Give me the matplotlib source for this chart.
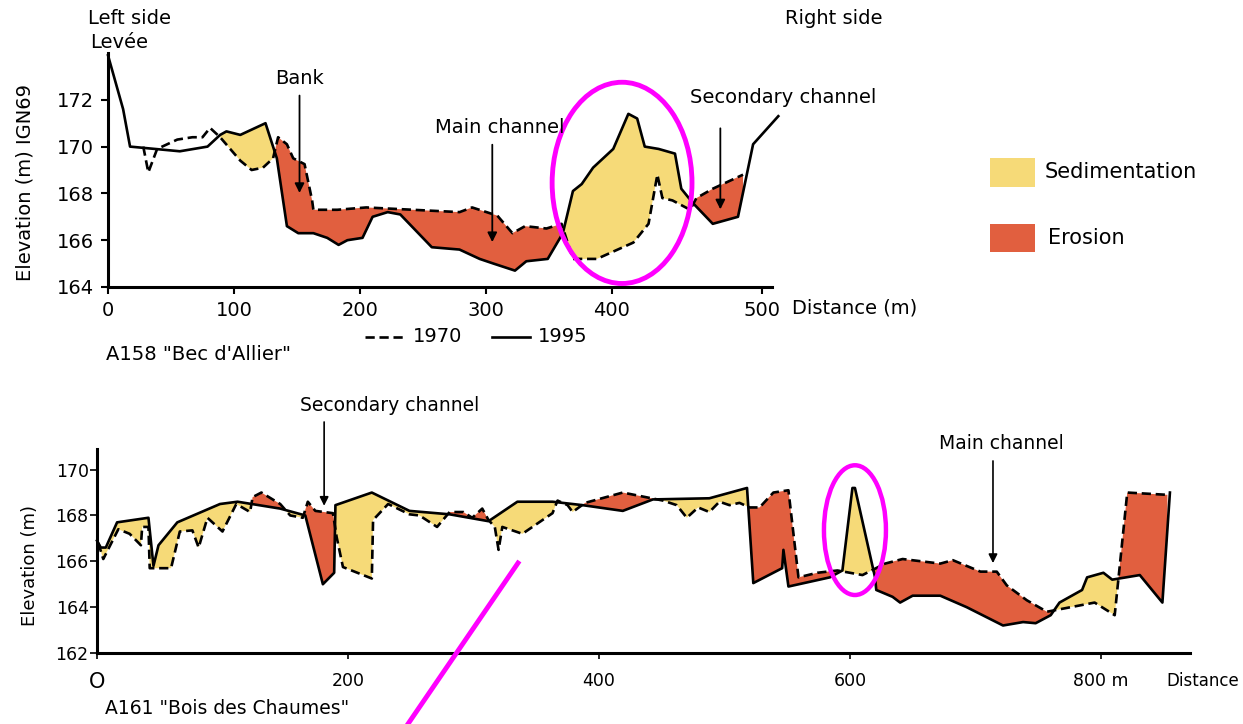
import numpy as np
import matplotlib
matplotlib.use('Agg')
import matplotlib.pyplot as plt
from matplotlib.patches import Ellipse, Rectangle
from matplotlib.lines import Line2D

plt.rcParams['font.family'] = ['DejaVu Sans']

YELLOW = '#F6DA78'
RED = '#E15F3F'
MAGENTA = '#FF00FF'

# A158 "Bec d'Allier" profile (distance m, elevation m)
top_x_1995 = [0, 12, 17.5, 57, 79, 89, 94, 105, 125, 134, 142, 151, 163, 174, 183, 190, 202, 210, 222, 232,
              257, 279, 295, 306, 323, 332, 349, 361, 369, 376, 385, 401, 413, 420, 426, 437, 450, 455, 464,
              480, 500, 512, 532]
top_y_1995 = [173.9, 171.6, 170.0, 169.8, 170.0, 170.5, 170.65, 170.5, 171.0, 169.5, 166.6, 166.3, 166.3, 166.1,
              165.8, 166.0, 166.1, 167.0, 167.2, 167.1, 165.7, 165.6, 165.2, 165.0, 164.7, 165.1, 165.2, 166.3,
              168.1, 168.4, 169.1, 169.9, 171.4, 171.2, 170.0, 169.9, 169.7, 168.2, 167.6, 166.7, 167.0, 170.1,
              171.3]
top_x_1970 = [28, 32, 39, 55, 67, 75, 81, 89, 105, 114, 123, 131, 135, 142, 147, 156, 162, 163, 182, 205, 242,
              279, 289, 309, 321, 331, 348, 360, 369, 388, 417, 429, 436, 440, 448, 462, 467, 480, 504]
top_y_1970 = [170.0, 168.9, 169.9, 170.3, 170.4, 170.4, 170.8, 170.4, 169.4, 169.0, 169.1, 169.5, 170.4, 170.1,
              169.5, 169.25, 167.7, 167.3, 167.3, 167.4, 167.3, 167.2, 167.4, 167.05, 166.3, 166.6, 166.5, 166.7,
              165.2, 165.2, 165.9, 166.7, 168.8, 167.8, 167.7, 167.3, 167.8, 168.2, 168.8]
top_fill_from = 89

# A161 "Bois des Chaumes" profile
bot_x_1995 = [0, 3, 7, 16, 41, 45, 49, 64, 98, 112, 146, 166, 180, 189, 190, 219, 249, 281, 312, 335,
              363, 387, 419, 443, 488, 498, 518, 523, 546, 547, 551, 584, 594, 602, 604, 620, 621, 634, 640, 650,
              672, 693, 722, 738, 748, 760, 767, 785, 789, 802, 809, 831, 849, 855]
bot_y_1995 = [166.9, 166.6, 166.6, 167.7, 167.9, 165.8, 166.7, 167.7, 168.5, 168.6, 168.3, 168.0, 165.0, 165.5,
              168.45, 169.0, 168.2, 168.05, 167.75, 168.6, 168.6, 168.45, 168.2, 168.7, 168.75, 168.9, 169.2,
              165.05, 165.7, 166.5, 164.9, 165.3, 165.6, 169.2, 169.2, 165.3, 164.75, 164.45, 164.2, 164.5,
              164.5, 164.0, 163.2, 163.35, 163.3, 163.65, 164.2, 164.75, 165.3, 165.5, 165.2, 165.4, 164.2, 169.0]
bot_x_1970 = [1, 5, 17, 26, 35, 36, 41, 42, 49, 59, 66, 76, 81, 88, 100, 111, 122, 124, 131, 146, 154, 164,
              168, 174, 188, 191, 196, 219, 220, 232, 249, 257, 271, 281, 292, 299, 307, 312, 317, 320, 323,
              339, 351, 363, 367, 375, 379, 389, 419, 451, 462, 470, 479, 488, 496, 504, 512, 520, 528, 539,
              551, 559, 574, 590, 610, 628, 642, 672, 682, 704, 717, 725, 741, 757, 795, 811, 821, 853]
bot_y_1970 = [166.8, 166.1, 167.4, 167.2, 166.7, 167.5, 167.5, 165.7, 165.7, 165.7, 167.3, 167.35, 166.6, 167.9,
              167.3, 168.5, 168.15, 168.8, 169.0, 168.5, 168.0, 167.9, 168.6, 168.2, 168.1, 167.05, 165.75,
              165.25, 167.8, 168.5, 168.05, 168.0, 167.5, 168.15, 168.15, 167.9, 168.3, 167.8, 167.5, 166.5,
              167.5, 167.2, 167.65, 168.1, 168.65, 168.45, 168.15, 168.55, 169.0, 168.65, 168.45, 167.9,
              168.35, 168.15, 168.6, 168.45, 168.55, 168.35, 168.35, 169.0, 169.1, 165.3, 165.5, 165.6, 165.4,
              165.9, 166.1, 165.9, 166.05, 165.55, 165.55, 164.95, 164.3, 163.8, 164.2, 163.65, 169.0, 168.9]

top_ticks = [0, 100, 200, 300, 400, 519]
top_ticklabels = ['0', '100', '200', '300', '400', '500']
bot_ticks = [0, 200, 400, 600, 800]
bot_ticklabels = ['O', '200', '400', '600', '800 m']


def fx(px):
    return px / 1243


def fy(py):
    return 1 - py / 724


def fill_changes(ax, xo, yo, xn, yn, start=None):
    lo = max(xo[0], xn[0], start if start is not None else -np.inf)
    hi = min(xo[-1], xn[-1])
    xs = np.union1d(xo, xn)
    xs = np.union1d(xs[(xs >= lo) & (xs <= hi)], [lo, hi])
    o = np.interp(xs, xo, yo)
    n = np.interp(xs, xn, yn)
    ax.fill_between(xs, o, n, where=n >= o, interpolate=True, color=YELLOW, lw=0, zorder=1)
    ax.fill_between(xs, o, n, where=n <= o, interpolate=True, color=RED, lw=0, zorder=1)


def draw_profile(ax, xo, yo, xn, yn, start=None):
    fill_changes(ax, xo, yo, xn, yn, start)
    ax.plot(xo, yo, color='black', lw=1.9, ls=(0, (3.5, 1.8)), zorder=3, clip_on=False)
    ax.plot(xn, yn, color='black', lw=1.9, zorder=4, clip_on=False)


def style_axis(ax):
    for s in ['top', 'right']:
        ax.spines[s].set_visible(False)
    for s in ['left', 'bottom']:
        ax.spines[s].set_linewidth(2.2)


fig = plt.figure(figsize=(12.43, 7.24), dpi=100)

# top profile
ax1 = fig.add_axes([fx(108), fy(287), fx(772) - fx(108), fy(53) - fy(287)])
draw_profile(ax1, top_x_1970, top_y_1970, top_x_1995, top_y_1995, top_fill_from)
ax1.set_xlim(0, 527)
ax1.set_ylim(164, 174)
ax1.set_yticks([164, 166, 168, 170, 172])
ax1.set_xticks(top_ticks)
ax1.set_xticklabels(top_ticklabels)
ax1.tick_params(axis='both', labelsize=14, length=5, width=1.5, pad=5)
style_axis(ax1)

ax1.annotate('', xy=(152, 167.9), xytext=(152, 172.3),
             arrowprops=dict(arrowstyle='-|>', color='black', lw=1.3, mutation_scale=14))
ax1.text(152, 172.9, 'Bank', ha='center', va='center', fontsize=14)
ax1.annotate('', xy=(305, 165.8), xytext=(305, 170.2),
             arrowprops=dict(arrowstyle='-|>', color='black', lw=1.3, mutation_scale=14))
ax1.text(311, 170.8, 'Main channel', ha='center', va='center', fontsize=14, zorder=6)
ax1.annotate('', xy=(486, 167.2), xytext=(486, 170.9),
             arrowprops=dict(arrowstyle='-|>', color='black', lw=1.3, mutation_scale=14))
ax1.text(536, 172.1, 'Secondary channel', ha='center', va='center', fontsize=14, clip_on=False)
ax1.add_patch(Ellipse((408, 168.45), 111, 8.6, fill=False, ec=MAGENTA, lw=3.5, zorder=5, clip_on=False))

fig.text(fx(88), fy(18), 'Left side', ha='left', va='center', fontsize=14)
fig.text(fx(90), fy(42), 'Levée', ha='left', va='center', fontsize=14)
fig.text(fx(785), fy(18), 'Right side', ha='left', va='center', fontsize=14)
fig.text(fx(25), fy(182), 'Elevation (m) IGN69', rotation=90, ha='center', va='center', fontsize=14)
fig.text(fx(792), fy(308), 'Distance (m)', ha='left', va='center', fontsize=14)
fig.text(fx(106), fy(355), 'A158 "Bec d\'Allier"', ha='left', va='center', fontsize=14)

fig.add_artist(Line2D([fx(365), fx(405)], [fy(337), fy(337)], color='black', lw=1.9, ls=(0, (3.5, 1.8))))
fig.text(fx(413), fy(337), '1970', ha='left', va='center', fontsize=14)
fig.add_artist(Line2D([fx(492), fx(530)], [fy(337), fy(337)], color='black', lw=1.9))
fig.text(fx(538), fy(337), '1995', ha='left', va='center', fontsize=14)

fig.add_artist(Rectangle((fx(990), fy(187)), fx(45), fy(0) - fy(29), color=YELLOW, lw=0))
fig.text(fx(1045), fy(172), 'Sedimentation', ha='left', va='center', fontsize=15)
fig.add_artist(Rectangle((fx(990), fy(252)), fx(45), fy(0) - fy(28), color=RED, lw=0))
fig.text(fx(1048), fy(238), 'Erosion', ha='left', va='center', fontsize=15)

# bottom profile
ax2 = fig.add_axes([fx(97), fy(653), fx(1190) - fx(97), fy(449) - fy(653)])
draw_profile(ax2, bot_x_1970, bot_y_1970, bot_x_1995, bot_y_1995)
ax2.set_xlim(0, 871)
ax2.set_ylim(162, 170.9)
ax2.set_yticks([162, 164, 166, 168, 170])
ax2.set_xticks(bot_ticks)
ax2.set_xticklabels(bot_ticklabels)
ax2.tick_params(axis='both', labelsize=12.5, width=1.2)
ax2.tick_params(axis='x', length=4, pad=10)
ax2.tick_params(axis='y', length=5, pad=1)
ax2.get_xticklabels()[0].set_fontsize(15)
style_axis(ax2)

ax2.annotate('', xy=(181, 168.3), xytext=(181, 172.2),
             arrowprops=dict(arrowstyle='-|>', color='black', lw=1.2, mutation_scale=13),
             annotation_clip=False)
ax2.text(233, 172.8, 'Secondary channel', ha='center', va='center', fontsize=13.5, clip_on=False)
ax2.annotate('', xy=(714, 165.8), xytext=(714, 170.5),
             arrowprops=dict(arrowstyle='-|>', color='black', lw=1.2, mutation_scale=13),
             annotation_clip=False)
ax2.text(721, 171.15, 'Main channel', ha='center', va='center', fontsize=13.5, clip_on=False)
ax2.add_patch(Ellipse((604, 167.36), 49.4, 5.66, fill=False, ec=MAGENTA, lw=3.2, zorder=5, clip_on=False))

fig.text(fx(30), fy(565), 'Elevation (m)', rotation=90, ha='center', va='center', fontsize=13)
fig.text(fx(1166), fy(681), 'Distance', ha='left', va='center', fontsize=12)
fig.text(fx(105), fy(708), 'A161 "Bois des Chaumes"', ha='left', va='center', fontsize=13.5)

fig.add_artist(Line2D([fx(518), fx(397)], [fy(563), fy(740)], color=MAGENTA, lw=3.5))

fig.savefig('out.png', dpi=100)
